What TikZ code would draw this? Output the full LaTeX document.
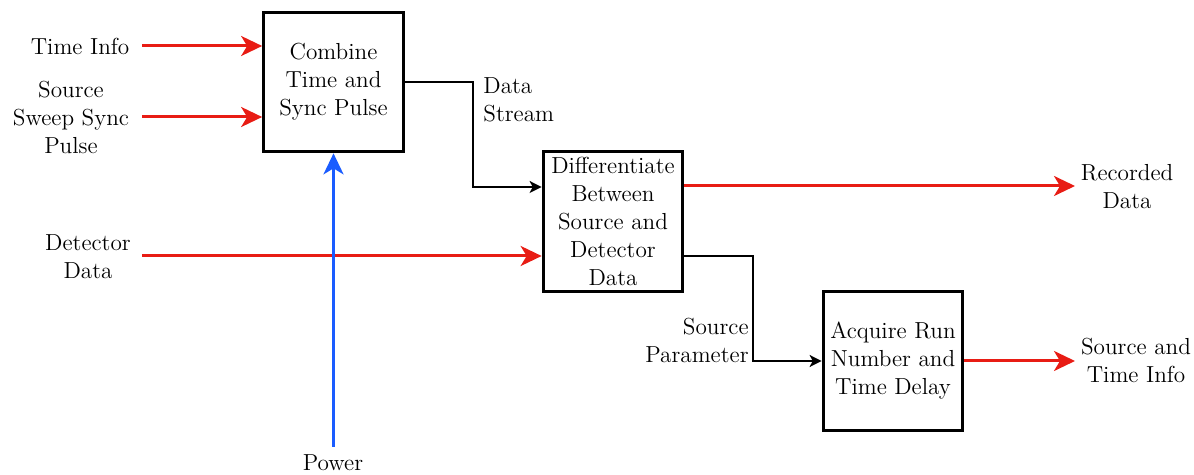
\documentclass[tikz,border=0pt]{standalone}
\usetikzlibrary{arrows.meta,calc}
\definecolor{flowred}{RGB}{232,28,20}
\definecolor{flowblue}{RGB}{26,92,255}
\newcommand{\diagfont}{\rmfamily\fontsize{11.6pt}{14pt}\selectfont}
\tikzset{
  block/.style={draw=black, line width=1.6pt, fill=white,
    minimum width=69.75pt, minimum height=69.75pt, inner sep=1pt,
    align=center, font=\diagfont},
  lbl/.style={inner sep=0pt, font=\diagfont, align=center},
  redflow/.style={draw=flowred, line width=1.5pt,
    -{Stealth[length=10.5pt,width=10pt,inset=3pt]}},
  blueflow/.style={draw=flowblue, line width=1.5pt,
    -{Stealth[length=10.5pt,width=10pt,inset=3pt]}},
  blackflow/.style={draw=black, line width=0.75pt,
    -{Stealth[length=6pt,width=6pt,inset=1.5pt]}}
}
\begin{document}
\begin{tikzpicture}[x=0.5pt,y=-0.5pt]
  \useasboundingbox (0,0) rectangle (1194,475);

  % processing blocks
  \node[block] (combine) at (333.5,82) {Combine\\Time and\\Sync Pulse};
  \node[block] (diff) at (613,221.5) {Differentiate\\Between\\Source and\\Detector\\Data};
  \node[block] (acquire) at (893,361) {Acquire Run\\Number and\\Time Delay};

  % free ends of the signal lines
  \coordinate (timeS) at (142,46);
  \coordinate (syncS) at (142,117);
  \coordinate (detS) at (142,256);
  \coordinate (powS) at (333.5,447);
  \coordinate (recE) at (1075,186);
  \coordinate (outE) at (1075,361);

  % labels
  \node[lbl] (timeL) at (80,46.5) {Time Info};
  \node[lbl] (syncL) at (71,117.5) {Source\\Sweep Sync\\Pulse};
  \node[lbl] (detL) at (88,256.5) {Detector\\Data};
  \node[lbl, anchor=base] (powL) at (333,471) {Power};
  \node[lbl, anchor=west, align=left] (dsL) at (483,99.5) {Data\\Stream};
  \node[lbl] (recL) at (1127,187) {Recorded\\Data};
  \node[lbl, anchor=east, align=right] (spL) at (749,340.5) {Source\\Parameter};
  \node[lbl] (outL) at (1136,360.5) {Source and\\Time Info};

  % inputs
  \draw[redflow] (timeS) -- ([yshift=18pt]combine.west);
  \draw[redflow] (syncS) -- ([yshift=-17.5pt]combine.west);
  \draw[redflow] (detS) -- ([yshift=-17.25pt]diff.west);
  \draw[blueflow] (powS) -- (combine.south);

  % internal links
  \draw[blackflow] (combine.east) -- ++(68,0) |- ([yshift=17.25pt]diff.west);
  \draw[blackflow] ([yshift=-17.25pt]diff.east) -- ++(68.5,0) |- (acquire.west);

  % outputs
  \draw[redflow] ([yshift=17.75pt]diff.east) -- (recE);
  \draw[redflow] (acquire.east) -- (outE);
\end{tikzpicture}
\end{document}
